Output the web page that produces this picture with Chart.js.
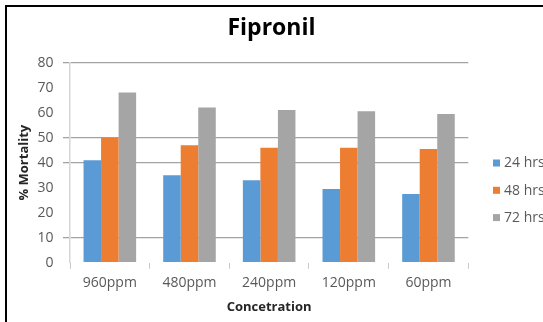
<!DOCTYPE html>
<html>
<head>
<meta charset="utf-8">
<script src="https://cdn.jsdelivr.net/npm/chart.js@4.4.0/dist/chart.umd.min.js"></script>
<style>
  html, body { margin: 0; padding: 0; background: #fff; }
  #wrap { position: relative; width: 543px; height: 322px; overflow: hidden; }
  canvas { display: block; }
</style>
</head>
<body>
<div id="wrap"><canvas id="c" width="543" height="322"></canvas></div>
<script>
// Fipronil: % mortality by concentration after 24, 48 and 72 hours
const concentrations = ['960ppm', '480ppm', '240ppm', '120ppm', '60ppm'];
const mortality24h = [41, 35, 33, 29.5, 27.5];
const mortality48h = [50, 47, 46, 46, 45.5];
const mortality72h = [68, 62, 61, 60.5, 59.5];
const seriesNames = ['24 hrs', '48 hrs', '72 hrs'];
const yTicks = { min: 0, max: 80, step: 10 };

const FONT = '"Open Sans", "DejaVu Sans", sans-serif';
const TEXT_GREY = '#595959';
const gridShown = new Set([80, 50, 40, 10]);

// Outer frame of the chart
const framePlugin = {
  id: 'frame',
  afterDraw(chart) {
    const ctx = chart.ctx;
    ctx.save();
    ctx.strokeStyle = '#000';
    ctx.lineWidth = 2;
    ctx.beginPath();
    ctx.moveTo(6, 330);
    ctx.lineTo(6, 6);
    ctx.lineTo(560, 6);
    ctx.stroke();
    ctx.restore();
  }
};

// Legend on the right, built from the dataset labels and colours
const sideLegend = {
  id: 'sideLegend',
  afterDraw(chart) {
    const ctx = chart.ctx;
    const x0 = 493, y0 = 163, gap = 27.3, box = 7;
    ctx.save();
    ctx.font = '14px ' + FONT;
    ctx.textBaseline = 'middle';
    ctx.textAlign = 'left';
    chart.data.datasets.forEach((ds, i) => {
      const y = y0 + i * gap;
      ctx.fillStyle = ds.backgroundColor;
      ctx.fillRect(x0, y - box / 2, box, box);
      ctx.fillStyle = TEXT_GREY;
      ctx.fillText(ds.label, x0 + 11, y + 0.5);
    });
    ctx.restore();
  }
};

new Chart(document.getElementById('c'), {
  type: 'bar',
  data: {
    labels: concentrations,
    datasets: [
      { label: seriesNames[0], data: mortality24h, backgroundColor: '#5b9bd5' },
      { label: seriesNames[1], data: mortality48h, backgroundColor: '#ed7d31' },
      { label: seriesNames[2], data: mortality72h, backgroundColor: '#a5a5a5' }
    ]
  },
  options: {
    responsive: false,
    animation: false,
    devicePixelRatio: 1,
    layout: { padding: 0 },
    datasets: {
      bar: { categoryPercentage: 0.66, barPercentage: 1.0, borderWidth: 0 }
    },
    plugins: {
      legend: { display: false },
      tooltip: { enabled: false },
      title: {
        display: true,
        text: 'Fipronil',
        color: '#000',
        font: { family: FONT, size: 23, weight: 'bold' },
        padding: { top: 15, bottom: 20 }
      }
    },
    scales: {
      x: {
        afterFit(scale) { scale.height = 59.3; },
        grid: {
          offset: true,
          drawOnChartArea: false,
          drawTicks: true,
          tickLength: 6,
          color: '#c8c8c8'
        },
        border: { display: false },
        ticks: {
          color: TEXT_GREY,
          font: { family: FONT, size: 14 },
          padding: 6,
          maxRotation: 0
        },
        title: {
          display: true,
          text: 'Concetration',
          color: '#262626',
          font: { family: FONT, size: 13, weight: 'bold' },
          padding: { top: 0, bottom: 7 }
        }
      },
      y: {
        min: yTicks.min,
        max: yTicks.max,
        afterFit(scale) { scale.width = 70; },
        grid: {
          color: (c) => (c.tick && gridShown.has(c.tick.value)) ? '#a3a3a3' : 'rgba(0,0,0,0)',
          lineWidth: 1.3,
          tickLength: 7
        },
        border: { display: true, color: '#d6d6d6', width: 1.5 },
        ticks: {
          stepSize: yTicks.step,
          color: TEXT_GREY,
          font: { family: FONT, size: 14 },
          padding: 9.5
        },
        title: {
          display: true,
          text: '% Mortality',
          color: '#262626',
          font: { family: FONT, size: 13, weight: 'bold' },
          padding: { top: 16, bottom: 0 }
        }
      },
      // empty right-hand strip that leaves room for the legend
      legendSpace: {
        type: 'linear',
        position: 'right',
        display: true,
        afterFit(scale) { scale.width = 74.7; },
        grid: { display: false, drawTicks: false },
        border: { display: false },
        ticks: { display: false }
      }
    }
  },
  plugins: [framePlugin, sideLegend]
});
</script>
</body>
</html>
